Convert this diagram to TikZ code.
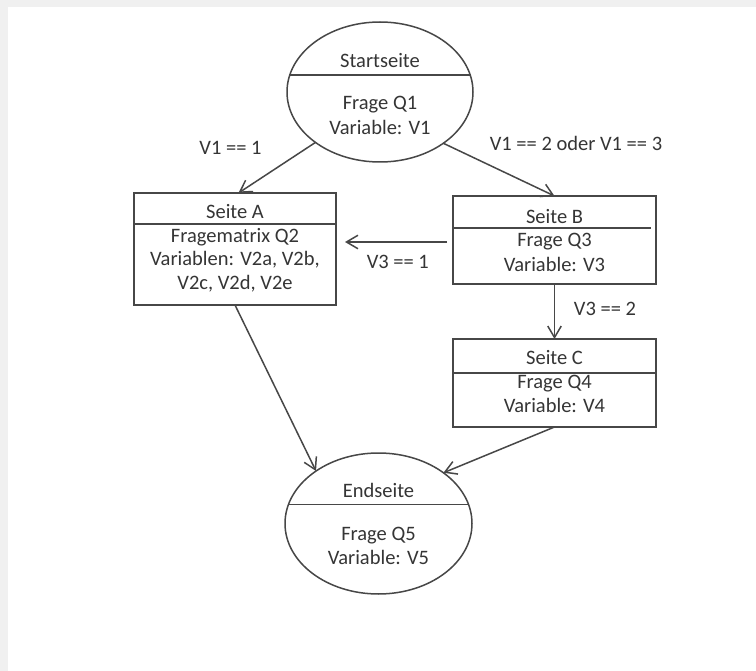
\documentclass[tikz,border=0pt]{standalone}
\usepackage{fontspec}
\setmainfont{Carlito}
\usetikzlibrary{arrows.meta,shapes.geometric}
\definecolor{ln}{HTML}{474747}
\definecolor{tx}{HTML}{353535}
\definecolor{bgc}{HTML}{F0F0F0}
\begin{document}
\begin{tikzpicture}[x=1pt,y=-1pt,
  frame/.style={draw=ln, line width=1.5pt},
  boxshape/.style={frame, rectangle, inner sep=0pt, outer sep=0pt},
  ovalshape/.style={frame, ellipse, inner sep=0pt, outer sep=0pt},
  lbl/.style={text=tx, font=\fontsize{20.5}{24}\selectfont, inner sep=0pt, anchor=base},
  conn/.style={draw=ln, line width=1.5pt, -{Straight Barb[length=11.5pt,width=13.5pt]}}]
\fill[bgc] (0,0) rectangle (756,671);
\fill[white] (8,7) rectangle (756,671);
\useasboundingbox (0,0) rectangle (756,671);

% shapes
\node[ovalshape, minimum width=186pt, minimum height=140pt] (startp) at (380,92) {};
\node[ovalshape, minimum width=187pt, minimum height=141pt] (endp) at (378.5,523.5) {};
\node[boxshape, minimum width=202pt, minimum height=112pt] (A) at (235,249) {};
\node[boxshape, minimum width=203pt, minimum height=88pt] (B) at (554.5,240) {};
\node[boxshape, minimum width=203pt, minimum height=88pt] (C) at (554.5,383) {};

% dividers
\coordinate (dA) at (0,224);
\coordinate (dB) at (651,228);
\coordinate (dC) at (0,373);
\draw[frame] (289.8,75) -- (470.2,75);
\draw[frame] (288.5,504.5) -- (468.5,504.5);
\draw[frame] (A.west |- dA) -- (A.east |- dA);
\draw[frame] (B.west |- dB) -- (dB);
\draw[frame] (C.west |- dC) -- (C.east |- dC);

% texts
\node[lbl] (s1) at (380,67.5) {Startseite};
\node[lbl] (s2) at (380,109.5) {Frage Q1};
\node[lbl] (s3) at (380,134.5) {Variable: V1};
\node[lbl] (a1) at (235,218.5) {Seite A};
\node[lbl] (a2) at (235,242.5) {Fragematrix Q2};
\node[lbl] (a3) at (235,265.5) {Variablen: V2a, V2b,};
\node[lbl] (a4) at (235,289.5) {V2c, V2d, V2e};
\node[lbl] (b1) at (554.5,223.5) {Seite B};
\node[lbl] (b2) at (554.5,246.5) {Frage Q3};
\node[lbl] (b3) at (554.5,271.5) {Variable: V3};
\node[lbl] (c1) at (554.5,364.5) {Seite C};
\node[lbl] (c2) at (554.5,388.5) {Frage Q4};
\node[lbl] (c3) at (554.5,412.5) {Variable: V4};
\node[lbl] (e1) at (378.5,497.5) {Endseite};
\node[lbl] (e2) at (378.5,540) {Frage Q5};
\node[lbl] (e3) at (378.5,564.5) {Variable: V5};

% connectors
\draw[conn] (startp.218) -- ([xshift=3.5pt]A.north);
\draw[conn] (startp.321) -- (B.north);
\draw[conn, shorten <=6pt, shorten >=9pt] ([yshift=-2pt]B.west) -- ([yshift=-2pt]B.west -| A.east);
\draw[conn] (B.south) -- (C.north);
\draw[conn] (A.south) -- (endp.140.5);
\draw[conn] (C.south) -- (endp.38);

% connector labels
\node[lbl] (l1) at (230.5,155) {V1 == 1};
\node[lbl] (l2) at (576,150.5) {V1 == 2 oder V1 == 3};
\node[lbl] (l3) at (397.8,268.8) {V3 == 1};
\node[lbl] (l4) at (605,315.5) {V3 == 2};
\end{tikzpicture}
\end{document}
